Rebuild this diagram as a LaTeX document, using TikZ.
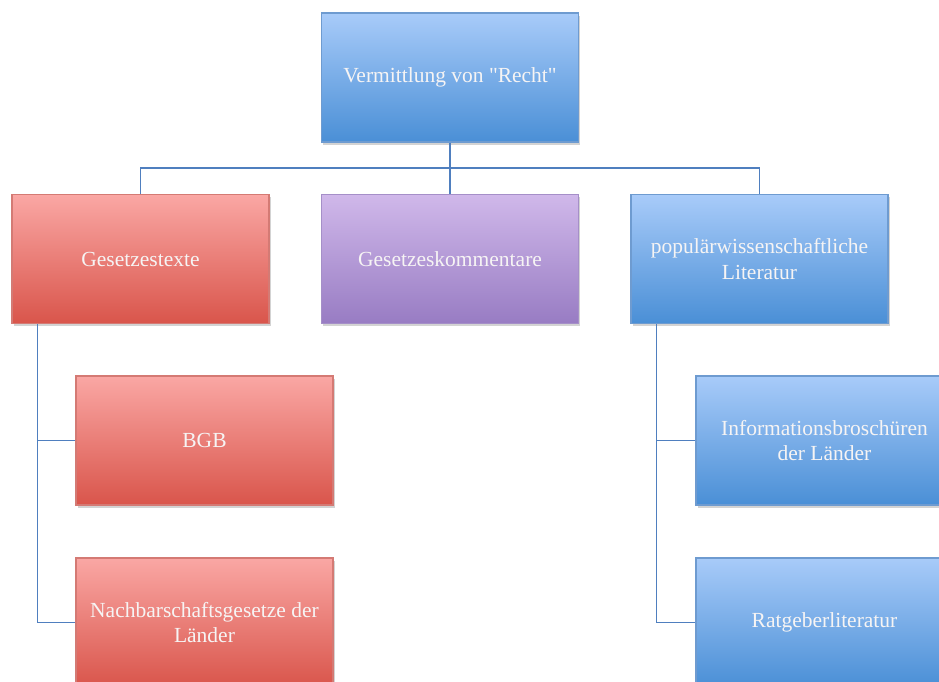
\documentclass[tikz,border=0pt]{standalone}
\usepackage{fontspec}
\setmainfont{Liberation Serif}[Ligatures=TeXOff]
\usetikzlibrary{shadows}
\definecolor{bluetop}{HTML}{A8CBF9}
\definecolor{bluebot}{HTML}{4A8FD6}
\definecolor{blueline}{HTML}{6E9BD0}
\definecolor{redtop}{HTML}{FAA7A4}
\definecolor{redbot}{HTML}{D9554B}
\definecolor{redline}{HTML}{D47A74}
\definecolor{purtop}{HTML}{D0B8EA}
\definecolor{purbot}{HTML}{987CC3}
\definecolor{purline}{HTML}{A58FC8}
\definecolor{conn}{HTML}{4F7FBF}
\definecolor{txt}{HTML}{F6F4F4}
\tikzset{
  box/.style={rectangle, minimum width=257pt, minimum height=129pt, inner sep=2pt,
    align=center, text=txt, font=\fontsize{21.5}{25.5}\selectfont, line width=1.2pt,
    drop shadow={opacity=0.35, shadow xshift=1.5pt, shadow yshift=-2.5pt}},
  bluebox/.style={box, top color=bluetop, bottom color=bluebot, draw=blueline},
  redbox/.style={box, top color=redtop, bottom color=redbot, draw=redline},
  purbox/.style={box, top color=purtop, bottom color=purbot, draw=purline},
  conline/.style={draw=conn, line width=1.8pt}
}
\begin{document}
\begin{tikzpicture}[x=1pt, y=-1pt]
\useasboundingbox (0,0) rectangle (939,681);
\clip (0,0) rectangle (939,681);
\coordinate (bus) at (450,168);
\node[bluebox] (top) at (450,77.5) {Vermittlung von "Recht"};
\node[redbox] (ges) at (140.5,259) {Gesetzestexte};
\node[purbox] (kom) at (450,259) {Gesetzeskommentare};
\node[bluebox] (pop) at (759.5,259) {populärwissenschaftliche\\Literatur};
\node[redbox] (bgb) at (204.5,440.5) {BGB};
\node[redbox] (nach) at (204.5,622.5) {Nachbarschaftsgesetze der\\Länder};
\node[bluebox] (info) at (824.5,440.5) {Informationsbroschüren\\der Länder};
\node[bluebox] (rat) at (824.5,622.5) {Ratgeberliteratur};
\draw[conline] (top.south) -- (kom.north);
\draw[conline] (ges.north) |- (bus) -| (pop.north);
\draw[conline] ([xshift=26pt]ges.south west) |- (bgb.west);
\draw[conline] ([xshift=26pt]ges.south west) |- (nach.west);
\draw[conline] ([xshift=26pt]pop.south west) |- (info.west);
\draw[conline] ([xshift=26pt]pop.south west) |- (rat.west);
\end{tikzpicture}
\end{document}
